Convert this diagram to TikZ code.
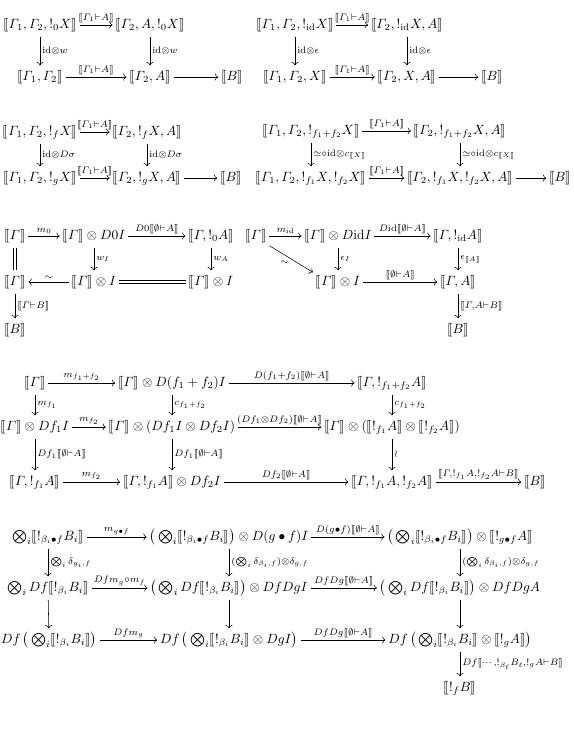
\documentclass[tikz,border=0pt]{standalone}
\usepackage{amsmath,amssymb,stmaryrd}
\usetikzlibrary{cd}
\newcommand{\arlab}[1]{$\scriptstyle #1$}
\newcommand{\sem}[1]{\llbracket #1\rrbracket}
\newcommand{\G}{\varGamma}
\newcommand{\EA}{\sem{\emptyset\vdash A}}
\begin{document}
\begin{tikzpicture}[x=0.745pt,y=-0.745pt,
  ob/.style={inner sep=2pt, text height=7.5pt, text depth=2.5pt},
  ar/.style={-cm to, line width=0.4pt},
  va/.style={-cm to, line width=0.4pt, shorten <=1.5pt, shorten >=1.5pt},
  lab/.style={inner sep=1.5pt},
  eqv/.style={double, double distance=1.6pt, line width=0.4pt, shorten <=1.5pt, shorten >=1.5pt},
  eqh/.style={double, double distance=1.6pt, line width=0.4pt}]
\useasboundingbox (0,0) rectangle (573,729);
% ---------- diagram 1
\node[ob] (d1a) at (40,25) {$\sem{\G_1,\G_2,!_0X}$};
\node[ob] (d1b) at (150,25) {$\sem{\G_2,A,!_0X}$};
\node[ob] (d1c) at (40,77) {$\sem{\G_1,\G_2}$};
\node[ob] (d1d) at (150,77) {$\sem{\G_2,A}$};
\node[ob] (d1e) at (232,77) {$\sem{B}$};
\draw[ar] (d1a) -- node[above,lab]{\arlab{\sem{\G_1\vdash A}}} (d1b);
\draw[va] (d1a) -- node[right,lab]{\arlab{\mathrm{id}\otimes w}} (d1c);
\draw[va] (d1b) -- node[right,lab]{\arlab{\mathrm{id}\otimes w}} (d1d);
\draw[ar] (d1c) -- node[above,lab]{\arlab{\sem{\G_1\vdash A}}} (d1d);
\draw[ar] (d1d) -- (d1e);
% ---------- diagram 2
\node[ob] (d2a) at (295,25) {$\sem{\G_1,\G_2,!_{\mathrm{id}}X}$};
\node[ob] (d2b) at (407,25) {$\sem{\G_2,!_{\mathrm{id}}X,A}$};
\node[ob] (d2c) at (295,77) {$\sem{\G_1,\G_2,X}$};
\node[ob] (d2d) at (407,77) {$\sem{\G_2,X,A}$};
\node[ob] (d2e) at (492,77) {$\sem{B}$};
\draw[ar] (d2a) -- node[above,lab]{\arlab{\sem{\G_1\vdash A}}} (d2b);
\draw[va] (d2a) -- node[right,lab]{\arlab{\mathrm{id}\otimes\epsilon}} (d2c);
\draw[va] (d2b) -- node[right,lab]{\arlab{\mathrm{id}\otimes\epsilon}} (d2d);
\draw[ar] (d2c) -- node[above,lab]{\arlab{\sem{\G_1\vdash A}}} (d2d);
\draw[ar] (d2d) -- (d2e);
% ---------- diagram 3
\node[ob] (d3a) at (40,132) {$\sem{\G_1,\G_2,!_fX}$};
\node[ob] (d3b) at (147,132) {$\sem{\G_2,!_fX,A}$};
\node[ob] (d3c) at (40,178) {$\sem{\G_1,\G_2,!_gX}$};
\node[ob] (d3d) at (147,178) {$\sem{\G_2,!_gX,A}$};
\node[ob] (d3e) at (231,178) {$\sem{B}$};
\draw[ar] (d3a) -- node[above,lab]{\arlab{\sem{\G_1\vdash A}}} (d3b);
\draw[va] (d3a) -- node[right,lab]{\arlab{\mathrm{id}\otimes D\sigma}} (d3c);
\draw[va] (d3b) -- node[right,lab]{\arlab{\mathrm{id}\otimes D\sigma}} (d3d);
\draw[ar] (d3c) -- node[above,lab]{\arlab{\sem{\G_1\vdash A}}} (d3d);
\draw[ar] (d3d) -- (d3e);
% ---------- diagram 4
\node[ob] (d4a) at (311,131) {$\sem{\G_1,\G_2,!_{f_1+f_2}X}$};
\node[ob] (d4b) at (460,131) {$\sem{\G_2,!_{f_1+f_2}X,A}$};
\node[ob] (d4c) at (311,178) {$\sem{\G_1,\G_2,!_{f_1}X,!_{f_2}X}$};
\node[ob] (d4d) at (460,178) {$\sem{\G_2,!_{f_1}X,!_{f_2}X,A}$};
\node[ob] (d4e) at (560,178) {$\sem{B}$};
\draw[ar] (d4a) -- node[above,lab]{\arlab{\sem{\G_1\vdash A}}} (d4b);
\draw[va] (d4a) -- node[right,lab]{\arlab{\simeq\circ\mathrm{id}\otimes c_{\sem{X}}}} (d4c);
\draw[va] (d4b) -- node[right,lab]{\arlab{\simeq\circ\mathrm{id}\otimes c_{\sem{X}}}} (d4d);
\draw[ar] (d4c) -- node[above,lab]{\arlab{\sem{\G_1\vdash A}}} (d4d);
\draw[ar] (d4d) -- (d4e);
% ---------- diagram 5
\node[ob] (d5a) at (15,236) {$\sem{\G}$};
\node[ob] (d5b) at (94,236) {$\sem{\G}\otimes D0I$};
\node[ob] (d5c) at (211,236) {$\sem{\G,!_0A}$};
\node[ob] (d5d) at (15,282) {$\sem{\G}$};
\node[ob] (d5e) at (94,282) {$\sem{\G}\otimes I$};
\node[ob] (d5f) at (211,282) {$\sem{\G}\otimes I$};
\node[ob] (d5g) at (15,330) {$\sem{B}$};
\draw[ar] (d5a) -- node[above,lab]{\arlab{m_0}} (d5b);
\draw[ar] (d5b) -- node[above,lab]{\arlab{D0\EA}} (d5c);
\draw[eqv] (d5a) -- (d5d);
\draw[va] (d5b) -- node[right,lab]{\arlab{w_I}} (d5e);
\draw[va] (d5c) -- node[right,lab]{\arlab{w_A}} (d5f);
\draw[ar] (d5e) -- node[above,lab]{\arlab{\sim}} (d5d);
\draw[eqh] (d5e) -- (d5f);
\draw[va] (d5d) -- node[right,lab]{\arlab{\sem{\G\vdash B}}} (d5g);
% ---------- diagram 6
\node[ob] (d6a) at (256,236) {$\sem{\G}$};
\node[ob] (d6b) at (338,236) {$\sem{\G}\otimes D\mathrm{id}I$};
\node[ob] (d6c) at (458,236) {$\sem{\G,!_{\mathrm{id}}A}$};
\node[ob] (d6d) at (338,282) {$\sem{\G}\otimes I$};
\node[ob] (d6e) at (458,282) {$\sem{\G,A}$};
\node[ob] (d6f) at (458,330) {$\sem{B}$};
\draw[ar] (d6a) -- node[above,lab]{\arlab{m_{\mathrm{id}}}} (d6b);
\draw[ar] (d6b) -- node[above,lab]{\arlab{D\mathrm{id}\EA}} (d6c);
\draw[ar] (d6a.south east) -- node[below left,lab]{\arlab{\sim}} (d6d.north west);
\draw[va] (d6b) -- node[right,lab]{\arlab{\epsilon_I}} (d6d);
\draw[va] (d6c) -- node[right,lab]{\arlab{\epsilon_{\sem{A}}}} (d6e);
\draw[ar] (d6d) -- node[above,lab]{\arlab{\EA}} (d6e);
\draw[va] (d6e) -- node[right,lab]{\arlab{\sem{\G,A\vdash B}}} (d6f);
% ---------- diagram 7
\node[ob] (d7a) at (35,383) {$\sem{\G}$};
\node[ob] (d7b) at (172,383) {$\sem{\G}\otimes D(f_1+f_2)I$};
\node[ob] (d7c) at (392,383) {$\sem{\G,!_{f_1+f_2}A}$};
\node[ob] (d7d) at (35,427) {$\sem{\G}\otimes Df_1I$};
\node[ob] (d7e) at (172,427) {$\sem{\G}\otimes(Df_1I\otimes Df_2I)$};
\node[ob] (d7f) at (392,427) {$\sem{\G}\otimes(\sem{!_{f_1}A}\otimes\sem{!_{f_2}A})$};
\node[ob] (d7g) at (35,482) {$\sem{\G,!_{f_1}A}$};
\node[ob] (d7h) at (172,482) {$\sem{\G,!_{f_1}A}\otimes Df_2I$};
\node[ob] (d7i) at (392,482) {$\sem{\G,!_{f_1}A,!_{f_2}A}$};
\node[ob] (d7j) at (535,482) {$\sem{B}$};
\draw[ar] (d7a) -- node[above,lab]{\arlab{m_{f_1+f_2}}} (d7b);
\draw[ar] (d7b) -- node[above,lab]{\arlab{D(f_1+f_2)\EA}} (d7c);
\draw[va] (d7a) -- node[right,lab]{\arlab{m_{f_1}}} (d7d);
\draw[va] (d7b) -- node[right,lab]{\arlab{c_{f_1+f_2}}} (d7e);
\draw[va] (d7c) -- node[right,lab]{\arlab{c_{f_1+f_2}}} (d7f);
\draw[ar] (d7d) -- node[above,lab]{\arlab{m_{f_2}}} (d7e);
\draw[ar] (d7e) -- node[above,lab]{\arlab{(Df_1\otimes Df_2)\EA}} (d7f);
\draw[va] (d7d) -- node[right,lab]{\arlab{Df_1\EA}} (d7g);
\draw[va] (d7e) -- node[right,lab]{\arlab{Df_1\EA}} (d7h);
\draw[va] (d7f) -- node[right,lab]{\arlab{\wr}} (d7i);
\draw[ar] (d7g) -- node[above,lab]{\arlab{m_{f_2}}} (d7h);
\draw[ar] (d7h) -- node[above,lab]{\arlab{Df_2\EA}} (d7i);
\draw[ar] (d7i) -- node[above,lab]{\arlab{\sem{\G,!_{f_1}A,!_{f_2}A\vdash B}}} (d7j);
% ---------- diagram 8
\node[ob] (d8a) at (48,537) {$\bigotimes_i\sem{!_{\beta_i\bullet f}B_i}$};
\node[ob] (d8b) at (229,537) {$\big(\bigotimes_i\sem{!_{\beta_i\bullet f}B_i}\big)\otimes D(g\bullet f)I$};
\node[ob] (d8c) at (460,537) {$\big(\bigotimes_i\sem{!_{\beta_i\bullet f}B_i}\big)\otimes\sem{!_{g\bullet f}A}$};
\node[ob] (d8d) at (48,588) {$\bigotimes_i Df\sem{!_{\beta_i}B_i}$};
\node[ob] (d8e) at (229,588) {$\big(\bigotimes_i Df\sem{!_{\beta_i}B_i}\big)\otimes DfDgI$};
\node[ob] (d8f) at (460,588) {$\big(\bigotimes_i Df\sem{!_{\beta_i}B_i}\big)\otimes DfDgA$};
\node[ob] (d8g) at (49,640) {$Df\,\big(\bigotimes_i\sem{!_{\beta_i}B_i}\big)$};
\node[ob] (d8h) at (229,640) {$Df\,\big(\bigotimes_i\sem{!_{\beta_i}B_i}\otimes DgI\big)$};
\node[ob] (d8i) at (460,640) {$Df\,\big(\bigotimes_i\sem{!_{\beta_i}B_i}\otimes\sem{!_gA}\big)$};
\node[ob] (d8j) at (460,688) {$\sem{!_fB}$};
\draw[ar] (d8a) -- node[above,lab]{\arlab{m_{g\bullet f}}} (d8b);
\draw[ar] (d8b) -- node[above,lab]{\arlab{D(g\bullet f)\EA}} (d8c);
\draw[va] (d8a) -- node[right,lab]{\arlab{\bigotimes_i\delta_{g_i,f}}} (d8d);
\draw[va] (d8b) -- node[right,lab]{\arlab{(\bigotimes_i\delta_{\beta_i,f})\otimes\delta_{g,f}}} (d8e);
\draw[va] (d8c) -- node[right,lab]{\arlab{(\bigotimes_i\delta_{\beta_i,f})\otimes\delta_{g,f}}} (d8f);
\draw[ar] (d8d) -- node[above,lab]{\arlab{Dfm_g\circ m_f}} (d8e);
\draw[ar] (d8e) -- node[above,lab]{\arlab{DfDg\EA}} (d8f);
\draw[va] (d8d) -- (d8g);
\draw[va] (d8e) -- (d8h);
\draw[va] (d8f) -- (d8i);
\draw[ar] (d8g) -- node[above,lab]{\arlab{Dfm_g}} (d8h);
\draw[ar] (d8h) -- node[above,lab]{\arlab{DfDg\EA}} (d8i);
\draw[va] (d8i) -- node[right,lab]{\arlab{Df\sem{\cdots,!_{\beta_\ell}B_\ell,!_gA\vdash B}}} (d8j);
\end{tikzpicture}
\end{document}
